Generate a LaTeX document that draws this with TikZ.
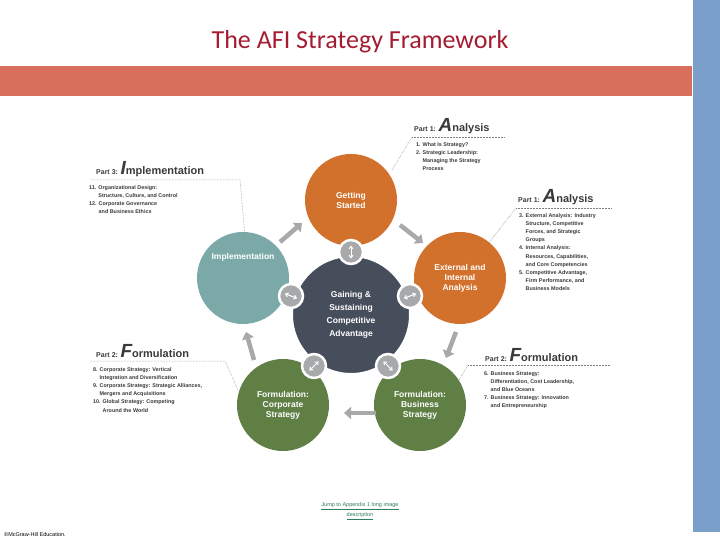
\documentclass[tikz,border=0pt]{standalone}
\usepackage{fontspec}
\setmainfont{Liberation Sans}
\newfontfamily\titlefont{Carlito}
\usetikzlibrary{arrows.meta}
\definecolor{ttl}{HTML}{A51C30}
\definecolor{band}{HTML}{D86F5D}
\definecolor{bar}{HTML}{7A9FCB}
\definecolor{org}{HTML}{D2712C}
\definecolor{tea}{HTML}{7AA9A7}
\definecolor{grn}{HTML}{5F7F45}
\definecolor{drk}{HTML}{474E5B}
\definecolor{gry}{HTML}{A7A9AB}
\definecolor{txt}{HTML}{3A3A3A}
\definecolor{lnk}{HTML}{2E7D5B}
\newcommand\parthead[3]{{\fontsize{7}{8}\selectfont #1 }{\fontsize{19}{19}\selectfont\itshape #2}{\fontsize{11}{11}\selectfont #3}}
\begin{document}
\begin{tikzpicture}[x=1pt,y=-1pt,
  big/.style={circle,minimum size=92pt,inner sep=0pt,text=white,align=center,font=\bfseries\fontsize{8.5}{10}\selectfont},
  hub/.style={circle,draw=white,line width=2.5pt,fill=gry,minimum size=24pt,inner sep=0pt},
  flow/.style={gry,line width=4.5pt,-{Triangle[length=7pt,width=12pt]}},
  hdr/.style={anchor=south west,inner sep=0pt,text=txt,font=\bfseries},
  lst/.style={anchor=north west,inner sep=0pt,align=left,text=txt,font=\bfseries\fontsize{5.4}{8.2}\selectfont},
  dot/.style={gray,densely dotted,line width=0.5pt}]
\useasboundingbox (0,0) rectangle (720,540);
\fill[white] (0,0) rectangle (720,540);
\fill[bar] (693,0) rectangle (720,532);
\fill[band] (0,66) rectangle (692,96);
\node (title) at (360,42) {\titlefont\fontsize{26}{30}\selectfont\color{ttl}The AFI Strategy Framework};
% circles
\node[big,fill=org] (gs) at (351,200) {Getting\\Started};
\node[big,fill=org] (ext) at (460,278) {External and\\Internal\\Analysis};
\node[big,fill=grn] (bus) at (420,405) {Formulation:\\Business\\Strategy};
\node[big,fill=grn] (cor) at (283,405) {Formulation:\\Corporate\\Strategy};
\node[big,fill=tea] (imp) at (243,278) {Implementation\\[34pt]};
\node[circle,fill=drk,draw=white,line width=2pt,minimum size=118pt,inner sep=0pt,text=white,align=center,font=\bfseries\fontsize{8.5}{13}\selectfont] (core) at (351,315) {Gaining \&\\Sustaining\\Competitive\\Advantage};
\node[hub] (h1) at (351,252) {};
\node[hub] (h2) at (410,296) {};
\node[hub] (h3) at (388,366) {};
\node[hub] (h4) at (314,366) {};
\node[hub] (h5) at (291,296) {};
\foreach \h/\a in {h1/90,h2/20,h3/-45,h4/45,h5/-20}
  \draw[white,line width=1pt,{Straight Barb[length=2.5pt,width=4pt]}-{Straight Barb[length=2.5pt,width=4pt]}] ([shift={(\a:-6.5pt)}]\h.center) -- ([shift={(\a:6.5pt)}]\h.center);
% flow arrows
\coordinate (a1s) at (280,242); \coordinate (a1e) at (302,223);
\coordinate (a2s) at (400,225); \coordinate (a2e) at (423,243);
\coordinate (a3s) at (456,332); \coordinate (a3e) at (446,358);
\coordinate (a4s) at (376,413); \coordinate (a4e) at (344,413);
\coordinate (a5s) at (254,360); \coordinate (a5e) at (246,332);
\foreach \s/\e in {a1s/a1e,a2s/a2e,a3s/a3e,a4s/a4e,a5s/a5e} \draw[flow] (\s) -- (\e);
% text blocks
\node[hdr] (p1a) at (414,134) {\parthead{Part 1:}{A}{nalysis}};
\draw[dot] (412,137) -- (505,137);
\coordinate (d1) at (412,137); \draw[dot] (d1) -- (392,170);
\node[lst] (l1a) at (416,142) {1. What Is Strategy?\\2. Strategic Leadership:\\\phantom{2. }Managing the Strategy\\\phantom{2. }Process};
\node[hdr] (p1b) at (518,205) {\parthead{Part 1:}{A}{nalysis}};
\draw[dot] (516,208) -- (612,208);
\coordinate (d2) at (516,208); \draw[dot] (d2) -- (488,244);
\node[lst] (l1b) at (519,213) {3. External Analysis: Industry\\\phantom{3. }Structure, Competitive\\\phantom{3. }Forces, and Strategic\\\phantom{3. }Groups\\4. Internal Analysis:\\\phantom{4. }Resources, Capabilities,\\\phantom{4. }and Core Competencies\\5. Competitive Advantage,\\\phantom{5. }Firm Performance, and\\\phantom{5. }Business Models};
\node[hdr] (p3) at (96,177) {\parthead{Part 3:}{I}{mplementation}};
\draw[dot] (91,180) -- (240,180) -- (245,236);
\node[lst] (l3) at (89,185) {11. Organizational Design:\\\phantom{11. }Structure, Culture, and Control\\12. Corporate Governance\\\phantom{12. }and Business Ethics};
\node[hdr] (p2a) at (96,358) {\parthead{Part 2:}{F}{ormulation}};
\draw[dot] (91,361) -- (225,361) -- (238,390);
\node[lst] (l2a) at (93,367) {8. Corporate Strategy: Vertical\\\phantom{8. }Integration and Diversification\\9. Corporate Strategy: Strategic Alliances,\\\phantom{9. }Mergers and Acquisitions\\10. Global Strategy: Competing\\\phantom{10. }Around the World};
\node[hdr] (p2b) at (485,362) {\parthead{Part 2:}{F}{ormulation}};
\draw[dot] (468,365) -- (610,365);
\coordinate (d3) at (468,365); \draw[dot] (d3) -- (452,392);
\node[lst] (l2b) at (484,371) {6. Business Strategy:\\\phantom{6. }Differentiation, Cost Leadership,\\\phantom{6. }and Blue Oceans\\7. Business Strategy: Innovation\\\phantom{7. }and Entrepreneurship};
% footer
\node[text=lnk,align=center,font=\fontsize{5.5}{10}\selectfont] (jump) at (360,511) {\underline{Jump to Appendix 1 long image}\\\underline{description}};
\node[anchor=west,inner sep=0pt,font=\fontsize{5.5}{6}\selectfont] (copy) at (4,535) {©McGraw-Hill Education.};
\end{tikzpicture}
\end{document}
